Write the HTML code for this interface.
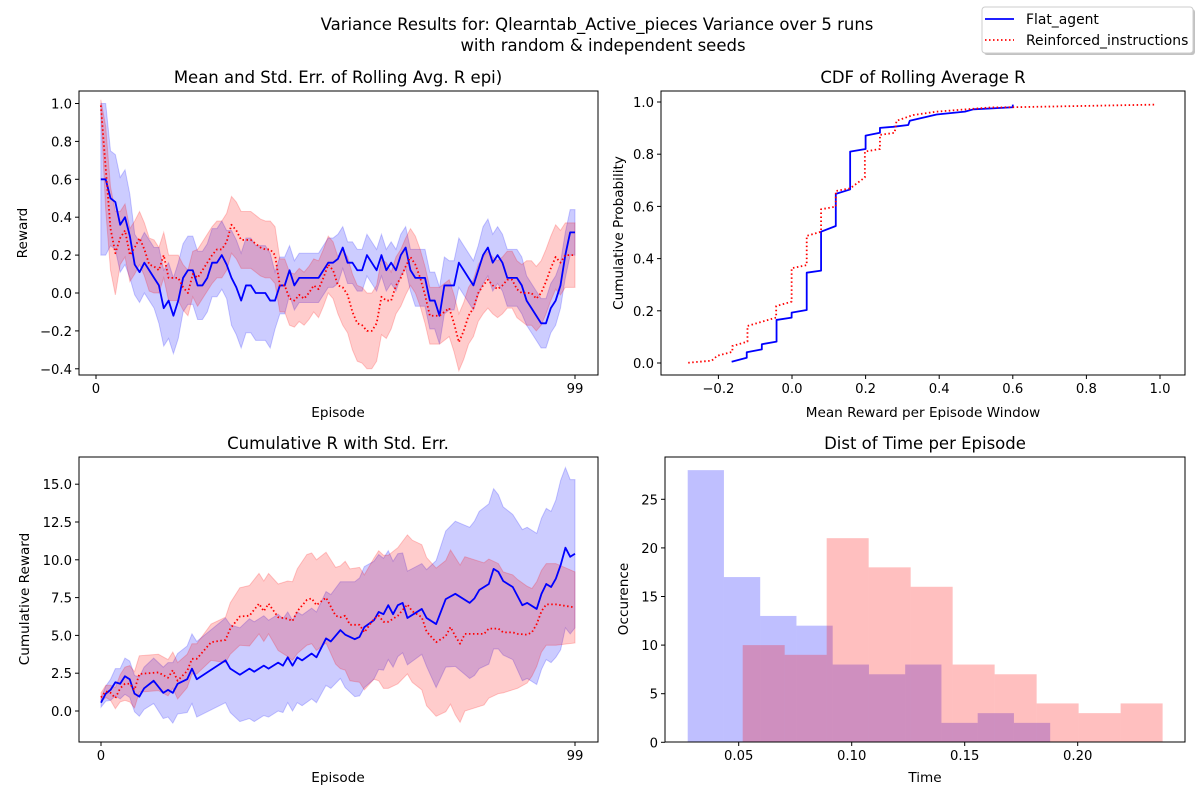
<!DOCTYPE html>
<html><head><meta charset="utf-8"><style>
html,body{margin:0;padding:0;background:#fff;}
svg{display:block;font-family:"DejaVu Sans","Liberation Sans",sans-serif;}
</style></head><body>
<svg id="fig" width="1200" height="800" viewBox="0 0 1200 800" xmlns="http://www.w3.org/2000/svg">
<text x="597" y="30" font-size="16.5" text-anchor="middle">Variance Results for: Qlearntab_Active_pieces Variance over 5 runs</text>
<text x="603" y="51" font-size="16.5" text-anchor="middle">with random &amp; independent seeds</text>
<g>
<rect x="984" y="9" width="211" height="46" rx="3" fill="#999" opacity="0.6"/>
<rect x="982" y="7" width="211" height="46" rx="3" fill="#fff" stroke="#ccc"/>
<line x1="985" y1="19" x2="1014" y2="19" stroke="#00f" stroke-width="1.8"/>
<text x="1026" y="24" font-size="13.9">Flat_agent</text>
<line x1="985" y1="40" x2="1014" y2="40" stroke="#f00" stroke-width="1.8" stroke-dasharray="1.5 2.5"/>
<text x="1026" y="45" font-size="13.9">Reinforced_instructions</text>
</g>
</svg>
<script>
// ---------- data ----------
const rollEpisodes = [1,2,3,4,5,6,7,8,9,10,11,12,13,14,15,16,17,18,19,20,21,22,23,24,25,26,27,28,29,30,31,32,33,34,35,36,37,38,39,40,41,42,43,44,45,46,47,48,49,50,51,52,53,54,55,56,57,58,59,60,61,62,63,64,65,66,67,68,69,70,71,72,73,74,75,76,77,78,79,80,81,82,83,84,85,86,87,88,89,90,91,92,93,94,95,96,97,98,99];
const flatRollMean = [0.6,0.6,0.5,0.48,0.36,0.4,0.3,0.15,0.11,0.16,0.12,0.08,0.04,-0.08,-0.04,-0.12,-0.04,0.08,0.12,0.12,0.04,0.04,0.08,0.16,0.16,0.2,0.15,0.08,0.03,-0.04,0.04,0.04,0,0,0,-0.04,-0.04,0.04,0.04,0.12,0.04,0.08,0.08,0.08,0.08,0.08,0.12,0.16,0.16,0.18,0.24,0.16,0.16,0.12,0.12,0.2,0.16,0.12,0.2,0.12,0.16,0.12,0.2,0.24,0.12,0.08,0.08,0.08,-0.04,-0.04,-0.12,0.04,0.04,0.04,0.16,0.12,0.08,0.04,0.12,0.2,0.24,0.16,0.2,0.16,0.08,0.08,0.08,0.04,-0.04,-0.08,-0.12,-0.16,-0.16,-0.08,-0.04,0.04,0.2,0.32,0.32];
const flatRollErr = [0.4,0.4,0.25,0.25,0.25,0.25,0.22,0.16,0.16,0.16,0.16,0.16,0.2,0.2,0.2,0.2,0.2,0.18,0.18,0.18,0.18,0.18,0.18,0.18,0.18,0.18,0.18,0.25,0.25,0.25,0.25,0.25,0.25,0.25,0.25,0.25,0.15,0.15,0.15,0.13,0.13,0.13,0.13,0.13,0.13,0.13,0.13,0.13,0.13,0.13,0.11,0.11,0.11,0.11,0.11,0.11,0.11,0.11,0.11,0.11,0.11,0.11,0.11,0.11,0.11,0.15,0.15,0.15,0.15,0.15,0.15,0.15,0.13,0.13,0.13,0.13,0.13,0.13,0.13,0.15,0.15,0.15,0.15,0.15,0.15,0.15,0.15,0.15,0.13,0.13,0.13,0.13,0.13,0.13,0.13,0.12,0.12,0.12,0.12];
const reinRollMean = [0.99,0.66,0.34,0.21,0.29,0.33,0.2,0.24,0.29,0.23,0.15,0.14,0.12,0.2,0.08,0.08,0.08,0.03,0.0,0.1,0.08,0.12,0.16,0.2,0.23,0.23,0.27,0.36,0.33,0.28,0.28,0.28,0.26,0.24,0.23,0.23,0.2,0.04,0.04,-0.03,-0.04,-0.01,-0.03,0.0,0.04,0.02,0.08,0.15,0.12,0.04,0.03,-0.01,-0.1,-0.16,-0.17,-0.2,-0.2,-0.16,-0.02,-0.04,-0.04,0.04,0.08,0.14,0.19,0.15,0.08,-0.01,-0.12,-0.12,-0.12,-0.1,-0.08,-0.16,-0.26,-0.2,-0.12,-0.08,0.0,0.04,0.07,0.04,0.02,0.04,0.07,0.07,0.02,0.0,0.0,0.0,-0.03,0.0,0.06,0.13,0.19,0.16,0.2,0.2,0.2];
const reinRollErr = [0.03,0.22,0.22,0.22,0.14,0.14,0.14,0.14,0.14,0.14,0.14,0.14,0.12,0.12,0.12,0.12,0.12,0.12,0.12,0.12,0.15,0.15,0.15,0.15,0.15,0.15,0.15,0.15,0.15,0.15,0.15,0.15,0.15,0.15,0.15,0.15,0.15,0.14,0.14,0.14,0.14,0.14,0.14,0.14,0.14,0.15,0.15,0.15,0.15,0.15,0.2,0.2,0.2,0.2,0.2,0.2,0.2,0.2,0.2,0.2,0.15,0.15,0.15,0.15,0.15,0.15,0.15,0.15,0.15,0.15,0.15,0.15,0.15,0.15,0.15,0.15,0.15,0.15,0.15,0.15,0.15,0.15,0.15,0.15,0.15,0.15,0.15,0.15,0.17,0.17,0.17,0.17,0.17,0.17,0.17,0.17,0.17,0.17,0.17];

const flatCdfX = [-0.164,-0.123,-0.123,-0.082,-0.082,-0.042,-0.042,-0.001,-0.001,0.04,0.04,0.079,0.079,0.119,0.119,0.158,0.158,0.2,0.2,0.239,0.239,0.275,0.316,0.32,0.393,0.47,0.493,0.538,0.6,0.6];
const flatCdfY = [0.005,0.02,0.041,0.052,0.072,0.082,0.165,0.174,0.193,0.203,0.346,0.354,0.503,0.525,0.648,0.665,0.81,0.82,0.871,0.882,0.901,0.905,0.912,0.928,0.952,0.963,0.972,0.975,0.98,0.99];
const reinCdfX = [-0.282,-0.218,-0.203,-0.162,-0.162,-0.121,-0.121,-0.043,-0.043,-0.001,-0.001,0.04,0.04,0.079,0.079,0.119,0.119,0.158,0.198,0.198,0.239,0.239,0.279,0.284,0.329,0.393,0.538,0.6,0.99];
const reinCdfY = [0.001,0.009,0.028,0.043,0.065,0.082,0.142,0.174,0.218,0.235,0.363,0.375,0.487,0.503,0.589,0.599,0.659,0.669,0.711,0.81,0.82,0.874,0.882,0.928,0.95,0.963,0.979,0.98,0.99];

const flatCumEp = [0,1,2,3,4,5,6,7,8,9,11,13,14,15,16,18,19,20,26,27,29,31,32,34,35,37,38,39,40,41,42,44,45,47,48,50,51,53,54,55,57,58,59,60,61,62,63,64,67,68,70,72,74,77,78,79,81,82,83,84,86,88,89,91,92,93,94,95,96,97,98,99];
const flatCumMean = [0.55,1.15,1.4,1.9,1.8,2.3,2.1,1.15,0.95,1.5,2.0,1.2,1.4,1.2,1.8,2.1,2.8,2.1,3.35,2.8,2.4,2.8,2.6,3.0,2.8,3.2,3.0,3.55,3.0,3.55,3.35,3.8,3.55,4.8,4.6,5.35,5.05,4.75,4.9,5.55,6.0,6.55,6.4,7.0,6.4,7.0,7.15,6.15,6.75,6.15,5.75,7.4,7.75,7.15,7.45,8.0,8.4,9.4,9.2,8.6,8.2,7.0,7.15,6.75,7.75,8.4,8.2,8.75,9.65,10.8,10.2,10.4];
const flatCumErr = [0.3,0.5,0.7,0.9,1.0,1.2,1.2,1.2,1.3,1.4,1.5,1.7,1.8,2.0,2.0,2.2,2.3,2.5,2.8,2.9,3.1,3.3,3.3,3.3,3.2,3.2,3.1,3.0,3.0,3.0,3.0,3.0,3.0,3.1,3.1,3.2,3.5,3.8,3.9,4.0,3.9,3.8,3.7,3.6,3.5,3.4,3.3,3.1,3.0,3.2,4.2,4.5,4.8,5.0,5.1,5.2,5.3,5.3,5.1,4.9,4.8,5.0,5.0,5.0,5.0,5.0,5.0,5.2,5.6,5.3,5.1,4.9];
const reinCumEp = [0,1,2,3,4,5,6,7,8,10,12,14,15,16,18,19,20,23,26,27,29,31,33,34,35,37,39,40,41,43,44,45,47,49,50,51,52,54,55,57,58,59,60,62,64,65,67,68,70,72,73,74,75,76,80,81,83,84,86,87,89,90,91,92,93,95,99];
const reinCumMean = [0.9,1.3,1.2,0.85,1.5,1.8,1.8,1.4,2.45,2.5,2.55,2.2,2.7,2.0,2.65,3.45,3.45,4.55,4.7,5.45,6.25,6.3,7.1,6.6,7.1,6.2,6.1,5.95,6.6,7.35,7.45,7.0,7.5,6.3,6.2,6.3,5.7,5.7,5.2,6.1,6.3,5.9,5.9,6.3,7.05,6.6,6.2,5.25,4.55,4.95,5.55,4.95,4.45,5.1,5.1,5.45,5.45,5.2,5.2,5.1,5.05,5.2,5.75,6.6,7.05,7.05,6.85];
const reinCumErr = [0.3,0.4,0.5,0.7,0.9,1.1,1.2,1.2,1.2,1.2,1.2,1.2,1.2,1.2,1.1,1.0,1.0,1.2,1.5,1.7,1.9,2.0,2.0,2.0,2.0,2.2,2.5,2.6,2.8,3.0,3.0,3.0,3.0,3.2,3.4,3.6,3.7,3.8,3.8,4.0,4.3,4.4,4.4,4.5,4.6,4.7,4.8,4.9,4.9,5.0,5.1,5.2,5.2,5.1,4.7,4.6,4.3,4.0,3.8,3.6,3.2,2.9,2.8,2.7,2.7,2.7,2.35];

const flatHistStart = 0.02743;
const flatHistWidth = 0.01604;
const flatHistCounts = [28,17,13,12,8,7,8,2,3,2];
const reinHistStart = 0.05177;
const reinHistWidth = 0.01858;
const reinHistCounts = [10,9,21,18,16,8,7,4,3,4];

const tlYTicks = [-0.4,-0.2,0.0,0.2,0.4,0.6,0.8,1.0];
const tlYLabels = ["−0.4","−0.2","0.0","0.2","0.4","0.6","0.8","1.0"];
const trXTicks = [-0.2,0.0,0.2,0.4,0.6,0.8,1.0];
const trXLabels = ["−0.2","0.0","0.2","0.4","0.6","0.8","1.0"];
const trYTicks = [0,0.2,0.4,0.6,0.8,1.0];
const trYLabels = ["0.0","0.2","0.4","0.6","0.8","1.0"];
const blYTicks = [0,2.5,5,7.5,10,12.5,15];
const blYLabels = ["0.0","2.5","5.0","7.5","10.0","12.5","15.0"];
const brXTicks = [0.05,0.10,0.15,0.20];
const brXLabels = ["0.05","0.10","0.15","0.20"];
const brYTicks = [0,5,10,15,20,25];
const brYLabels = ["0","5","10","15","20","25"];
const epTicks = [0,99];
const epLabels = ["0","99"];

// ---------- helpers ----------
const NS = "http://www.w3.org/2000/svg";
const svg = document.getElementById('fig');
function mk(tag, attrs, parent){
  const e = document.createElementNS(NS, tag);
  for (const k in attrs) e.setAttribute(k, attrs[k]);
  (parent||svg).appendChild(e);
  return e;
}
function lin(d0,d1,r0,r1){ return v => r0 + (v-d0)*(r1-r0)/(d1-d0); }

function axesFrame(name, L,T,R,B){
  const g = mk('g',{});
  
  
  return g;
}
function drawBorder(g,L,T,R,B){
  const r = mk('rect',{x:L,y:T,width:R-L,height:B-T,fill:'none',stroke:'#000','stroke-width':1},g);
  
  
}
function xTicks(g, ticks, labels, sx, B){
  ticks.forEach((t,i)=>{
    const x = sx(t);
    const l = mk('line',{x1:x,y1:B,x2:x,y2:B+4,stroke:'#000','stroke-width':1},g);
    
    
    const tx = mk('text',{x:x,y:B+18,'font-size':13.2,'text-anchor':'middle'},g);
    
    
    tx.textContent = labels[i];
  });
}
function yTicks(g, ticks, labels, sy, L){
  ticks.forEach((t,i)=>{
    const y = sy(t);
    const l = mk('line',{x1:L-4,y1:y,x2:L,y2:y,stroke:'#000','stroke-width':1},g);
    
    
    const tx = mk('text',{x:L-7,y:y+5,'font-size':13.2,'text-anchor':'end'},g);
    
    
    tx.textContent = labels[i];
  });
}
function title(g, text, x, y, name){
  const t = mk('text',{x:x,y:y,'font-size':16.5,'text-anchor':'middle'},g);
  
  
  t.textContent = text;
}
function xlabel(g, text, x, y){
  const t = mk('text',{x:x,y:y,'font-size':13.6,'text-anchor':'middle'},g);
  
  
  t.textContent = text;
}
function ylabel(g, text, x, y){
  const t = mk('text',{x:x,y:y,'font-size':13.6,'text-anchor':'middle',transform:`rotate(-90 ${x} ${y})`},g);
  
  
  t.textContent = text;
}
function band(g, xs, m, e, sx, sy, color, name){
  let pts = [];
  for (let i=0;i<xs.length;i++) pts.push(sx(xs[i])+','+sy(m[i]+e[i]));
  for (let i=xs.length-1;i>=0;i--) pts.push(sx(xs[i])+','+sy(m[i]-e[i]));
  const p = mk('polygon',{points:pts.join(' '),fill:color,'fill-opacity':0.2,stroke:color,'stroke-opacity':0.2,'stroke-width':1},g);
  
  
}
function line(g, xs, ys, sx, sy, color, dotted, name){
  const pts = xs.map((x,i)=>sx(x)+','+sy(ys[i])).join(' ');
  const a = {points:pts,fill:'none',stroke:color,'stroke-width':1.8,'stroke-linejoin':'round'};
  if (dotted) a['stroke-dasharray']='1.5 2.5';
  const p = mk('polyline',a,g);
  
  
}

// ---------- top-left ----------
(function(){
  const L=79,T=91,R=598,B=375;
  const g = axesFrame('rolling-reward-chart');
  const sx = lin(0,99,96,575), sy = lin(0,0.2,293,255.1);
  band(g, rollEpisodes, flatRollMean, flatRollErr, sx, sy, '#0000ff', 'flat-rolling-band');
  band(g, rollEpisodes, reinRollMean, reinRollErr, sx, sy, '#ff0000', 'reinforced-rolling-band');
  line(g, rollEpisodes, flatRollMean, sx, sy, '#0000ff', false, 'flat-rolling-line');
  line(g, rollEpisodes, reinRollMean, sx, sy, '#ff0000', true, 'reinforced-rolling-line');
  drawBorder(g,L,T,R,B);
  xTicks(g, epTicks, epLabels, sx, B);
  yTicks(g, tlYTicks, tlYLabels, sy, L);
  title(g,'Mean and Std. Err. of Rolling Avg. R epi)',338,83,'rolling-chart-title');
  xlabel(g,'Episode',338,417);
  ylabel(g,'Reward',27,233);
})();

// ---------- top-right ----------
(function(){
  const L=661,T=91,R=1185,B=375;
  const g = axesFrame('cdf-chart');
  const sx = lin(0,1,792,1160), sy = lin(0,1,363,102);
  line(g, flatCdfX, flatCdfY, sx, sy, '#0000ff', false, 'flat-cdf-line');
  line(g, reinCdfX, reinCdfY, sx, sy, '#ff0000', true, 'reinforced-cdf-line');
  drawBorder(g,L,T,R,B);
  xTicks(g, trXTicks, trXLabels, sx, B);
  yTicks(g, trYTicks, trYLabels, sy, L);
  title(g,'CDF of Rolling Average R',923,83,'cdf-chart-title');
  xlabel(g,'Mean Reward per Episode Window',923,417);
  ylabel(g,'Cumulative Probability',623,233);
})();

// ---------- bottom-left ----------
(function(){
  const L=79,T=457,R=598,B=742;
  const g = axesFrame('cumulative-reward-chart');
  const sx = lin(0,99,101,575), sy = lin(0,2.5,711,673.2);
  band(g, flatCumEp, flatCumMean, flatCumErr, sx, sy, '#0000ff', 'flat-cumulative-band');
  band(g, reinCumEp, reinCumMean, reinCumErr, sx, sy, '#ff0000', 'reinforced-cumulative-band');
  line(g, flatCumEp, flatCumMean, sx, sy, '#0000ff', false, 'flat-cumulative-line');
  line(g, reinCumEp, reinCumMean, sx, sy, '#ff0000', true, 'reinforced-cumulative-line');
  drawBorder(g,L,T,R,B);
  xTicks(g, epTicks, epLabels, sx, B);
  yTicks(g, blYTicks, blYLabels, sy, L);
  title(g,'Cumulative R with Std. Err.',338,449,'cumulative-chart-title');
  xlabel(g,'Episode',338,782);
  ylabel(g,'Cumulative Reward',29,599);
})();

// ---------- bottom-right ----------
(function(){
  const L=665,T=457,R=1185,B=742;
  const g = axesFrame('time-histogram-chart');
  const sx = lin(0.05,0.10,738.7,851.7), sy = lin(0,25,742.3,499.3);
  flatHistCounts.forEach((c,i)=>{
    const x0 = sx(flatHistStart + i*flatHistWidth), x1 = sx(flatHistStart + (i+1)*flatHistWidth);
    const r = mk('rect',{x:x0,y:sy(c),width:x1-x0,height:sy(0)-sy(c),fill:'#0000ff','fill-opacity':0.25},g);
    
    
  });
  reinHistCounts.forEach((c,i)=>{
    const x0 = sx(reinHistStart + i*reinHistWidth), x1 = sx(reinHistStart + (i+1)*reinHistWidth);
    const r = mk('rect',{x:x0,y:sy(c),width:x1-x0,height:sy(0)-sy(c),fill:'#ff0000','fill-opacity':0.25},g);
    
    
  });
  drawBorder(g,L,T,R,B);
  xTicks(g, brXTicks, brXLabels, sx, B);
  yTicks(g, brYTicks, brYLabels, sy, L);
  title(g,'Dist of Time per Episode',925,449,'histogram-chart-title');
  xlabel(g,'Time',925,782);
  ylabel(g,'Occurence',628,599);
})();
</script>
</body></html>
